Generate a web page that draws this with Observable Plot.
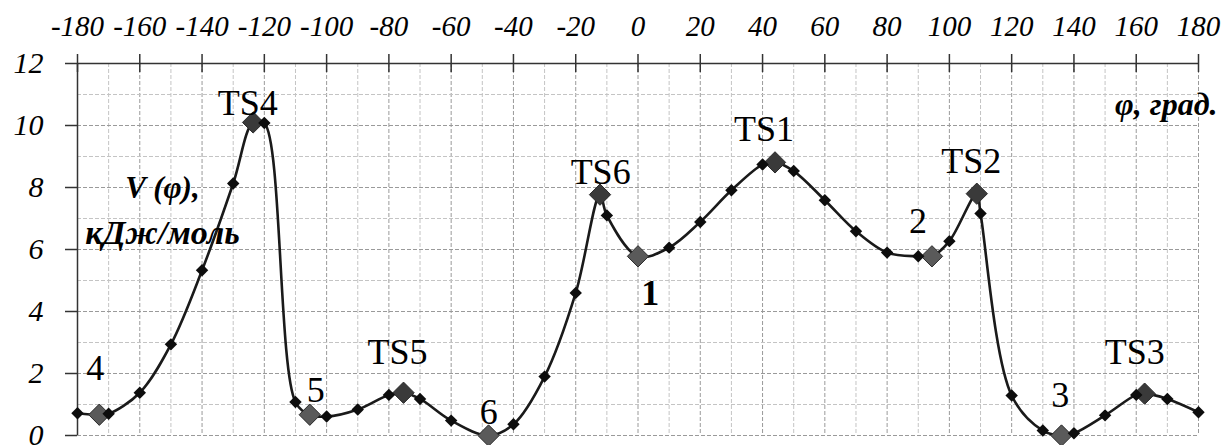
<!DOCTYPE html>
<html><head><meta charset="utf-8">
<script src="https://cdn.jsdelivr.net/npm/d3@7"></script>
<script src="https://cdn.jsdelivr.net/npm/@observablehq/plot@0.6"></script>
<style>
body{margin:0;background:#fff;}
#chart{width:1225px;height:445px;}
#chart svg text{font-family:"Liberation Serif",serif !important;}
#chart svg g:not([aria-label="text"]) > text{font-style:italic !important;}
</style></head><body><div id="chart"></div>
<script>
// computed points (black diamonds)
const phiPts = [-180,-170,-160,-150,-140,-130,-120,-110,-100,-90,-80,-70,-60,-40,-30,-20,-10,10,20,30,40,50,60,70,80,90,100,110,120,130,140,150,160,170,180];
const vPts   = [0.72,0.70,1.38,2.94,5.33,8.13,10.08,1.08,0.61,0.84,1.31,1.18,0.48,0.36,1.90,4.60,7.10,6.06,6.89,7.91,8.74,8.53,7.59,6.59,5.90,5.78,6.27,7.16,1.29,0.16,0.07,0.65,1.31,1.18,0.75];
// stationary points: minima and transition states
const statName = ["4","TS4","5","TS5","6","TS6","1","TS1","2","TS2","3","TS3"];
const statPhi  = [-173,-123.6,-105.4,-75.3,-48,-12.2,0,44,94.4,108.8,136,162.7];
const statV    = [0.67,10.1,0.67,1.38,0.0,7.77,5.78,8.81,5.78,7.8,0.0,1.35];
// label anchors
const labelPhi = [-174.3,-125.3,-103.5,-77.2,-47.9,-12.0,3.9,40.5,89.9,107.0,135.6,159.5];
const labelV   = [2.16,10.70,1.45,2.69,0.75,8.48,4.57,9.88,6.89,8.83,1.28,2.69];
// ticks
const xTicks = [-180,-160,-140,-120,-100,-80,-60,-40,-20,0,20,40,60,80,100,120,140,160,180];
const yTicks = [0,2,4,6,8,10,12];

const pts = phiPts.map((p,i)=>({phi:p, v:vPts[i]}));
const stat = statName.map((n,i)=>({name:n, phi:statPhi[i], v:statV[i], ts:n.startsWith("TS")}));
const curve = [...pts, ...stat.map(d=>({phi:d.phi, v:d.v}))].sort((a,b)=>a.phi-b.phi);
const labels = statName.map((n,i)=>({name:n, phi:labelPhi[i], v:labelV[i]}));

const xMinor = d3.range(-170,180,20);
const xMajor = d3.range(-160,181,20);
const yMinor = d3.range(1,12,2);
const yMajor = d3.range(0,11,2);
const serif = "Liberation Serif";

const chart = Plot.plot({
  width: 1225, height: 445,
  marginTop: 63, marginBottom: 10, marginLeft: 77, marginRight: 27,
  x: {domain: [-180,180], axis: null},
  y: {domain: [0,12], axis: null},
  style: {fontFamily: serif, background: "#fff", color: "#000"},
  marks: [
    Plot.ruleX(xMinor, {stroke: "#c4c4c4", strokeDasharray: "4,2", strokeWidth: 1}),
    Plot.ruleX(xMajor, {stroke: "#9a9a9a", strokeDasharray: "4,2", strokeWidth: 1}),
    Plot.ruleY(yMinor, {stroke: "#c4c4c4", strokeDasharray: "4,2", strokeWidth: 1}),
    Plot.ruleY(yMajor, {stroke: "#9a9a9a", strokeDasharray: "4,2", strokeWidth: 1}),
    Plot.ruleY([12], {stroke: "#333", strokeWidth: 1.5}),
    Plot.ruleX([-180], {stroke: "#333", strokeWidth: 1.5}),
    Plot.ruleX(xTicks, {x: d=>d, y1: 12, y2: 12, insetTop: -9, insetBottom: -9, stroke: "#333", strokeWidth: 1.5}),
    Plot.axisX({anchor: "top", ticks: xTicks, tickSize: 0, tickPadding: 28, tickFormat: d=>String(d),
      fontSize: 29, fontStyle: "italic", fontFamily: serif, label: null, fill: "#000"}),
    Plot.axisY({anchor: "left", ticks: yTicks, tickSize: 12, tickPadding: 22, tickFormat: d=>String(d),
      fontSize: 30, fontStyle: "italic", fontFamily: serif, label: null, stroke: "#333", strokeWidth: 1.5, fill: "#000"}),
    Plot.line(curve, {x: "phi", y: "v", curve: "catmull-rom", stroke: "#1a1a1a", strokeWidth: 2.6}),
    Plot.dot(stat, {x: "phi", y: "v", symbol: "diamond2", r: 9.6, fill: d=>d.ts ? "#3a3a3a" : "#5a5a5a", stroke: "#2a2a2a", strokeWidth: 1}),
    Plot.dot(pts, {x: "phi", y: "v", symbol: "diamond2", r: 5.6, fill: "#0d0d0d", stroke: "none"}),
    Plot.text(labels, {filter: d=>d.name !== "1", x: "phi", y: "v", text: "name", fontSize: 36, fontFamily: serif, fill: "#000", textAnchor: "middle"}),
    Plot.text(labels, {filter: d=>d.name === "1", x: "phi", y: "v", text: "name", fontSize: 36, fontFamily: serif, fontWeight: "bold", fill: "#000", textAnchor: "middle"}),
    Plot.text(["φ, град."], {frameAnchor: "top-right", dx: 19, dy: 41, lineAnchor: "middle", textAnchor: "end", fontSize: 32, fontFamily: serif, fontStyle: "italic", fontWeight: "bold", fill: "#000"}),
    Plot.text(["V (φ),"], {frameAnchor: "top-left", dx: 85, dy: 125, lineAnchor: "middle", textAnchor: "middle", fontSize: 31, fontFamily: serif, fontStyle: "italic", fontWeight: "bold", fill: "#000"}),
    Plot.text(["кДж/моль"], {frameAnchor: "top-left", dx: 85, dy: 170, lineAnchor: "middle", textAnchor: "middle", fontSize: 34, fontFamily: serif, fontStyle: "italic", fontWeight: "bold", fill: "#000"})
  ]
});
// make sure every text is drawn in the serif face, tick labels in italics
const sel = d3.select(chart);
sel.selectAll("text").attr("font-family", serif).style("font-family", serif);
sel.selectAll("g").filter(function(){ return /axis|tick/.test(this.getAttribute("aria-label") || ""); })
  .attr("font-style", "italic").selectAll("text").style("font-style", "italic");
document.getElementById("chart").appendChild(chart);
</script></body></html>
